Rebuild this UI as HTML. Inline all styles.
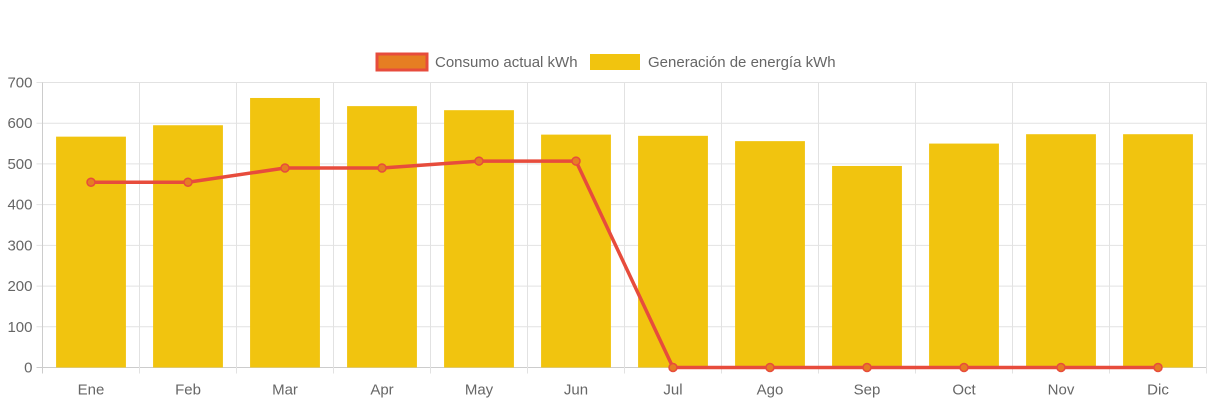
<!DOCTYPE html>
<html><head><meta charset="utf-8"><style>
body{margin:0;background:#fff;font-family:"Liberation Sans",Arial,sans-serif;}
svg text{font-family:"Liberation Sans",Arial,sans-serif;fill:#666;font-size:15px;}
</style></head><body>
<svg id="c" width="1213" height="403"></svg>
<script>
const categories=["Ene","Feb","Mar","Apr","May","Jun","Jul","Ago","Sep","Oct","Nov","Dic"];
const generation=[567,595,662,642,632,572,569,556,495,550,573,573];
const consumption=[455,455,490,490,507,507,0,0,0,0,0,0];
const yTicks=[0,100,200,300,400,500,600,700];
const NS="http://www.w3.org/2000/svg";
const svg=document.getElementById('c');
const L=42.5,R=1206.5,T=82.5,B=367.5,YMAX=700;
const cw=(R-L)/categories.length;
const y=v=>B-(v/YMAX)*(B-T);
const xc=i=>L+cw*(i+0.5);
function mk(tag,a,parent){const e=document.createElementNS(NS,tag);for(const k in a)e.setAttribute(k,a[k]);(parent||svg).appendChild(e);return e;}
yTicks.forEach(t=>{
  const g=mk('line',{x1:L-6,x2:R,y1:y(t),y2:y(t),stroke:t===0?'#ccc':'#e2e2e2','stroke-width':1});
  
  
  const tx=mk('text',{x:L-10,y:y(t)+5,'text-anchor':'end'});tx.textContent=t;
  
  
});
for(let i=0;i<=categories.length;i++){
  const x=L+cw*i;
  const g=mk('line',{x1:x,x2:x,y1:T,y2:B+6,stroke:i===0?'#ccc':'#e2e2e2','stroke-width':1});
  
  
}
categories.forEach((c,i)=>{
  const tx=mk('text',{x:xc(i),y:B+27,'text-anchor':'middle'});tx.textContent=c;
  
  
});
const bw=cw*0.72;
generation.forEach((v,i)=>{
  const r=mk('rect',{x:xc(i)-bw/2,y:y(v),width:bw,height:B-y(v),fill:'#f1c40f'});
  
  
});
const pts=consumption.map((v,i)=>xc(i)+','+y(v)).join(' ');
const pl=mk('polyline',{points:pts,fill:'none',stroke:'#e74c3c','stroke-width':3.5,'stroke-linejoin':'round'});


consumption.forEach((v,i)=>{
  const p=mk('circle',{cx:xc(i),cy:y(v),r:4,fill:'#e67e22',stroke:'#e74c3c','stroke-width':1.5});
  
  
});
const lg=mk('g',{});


const s1=mk('rect',{x:377,y:54,width:50,height:16,fill:'#e67e22',stroke:'#e74c3c','stroke-width':3},lg);


const t1=mk('text',{x:435,y:67},lg);t1.textContent='Consumo actual kWh';


const s2=mk('rect',{x:590,y:54,width:50,height:16,fill:'#f1c40f'},lg);


const t2=mk('text',{x:648,y:67},lg);t2.textContent='Generación de energía kWh';


</script>
</body></html>
